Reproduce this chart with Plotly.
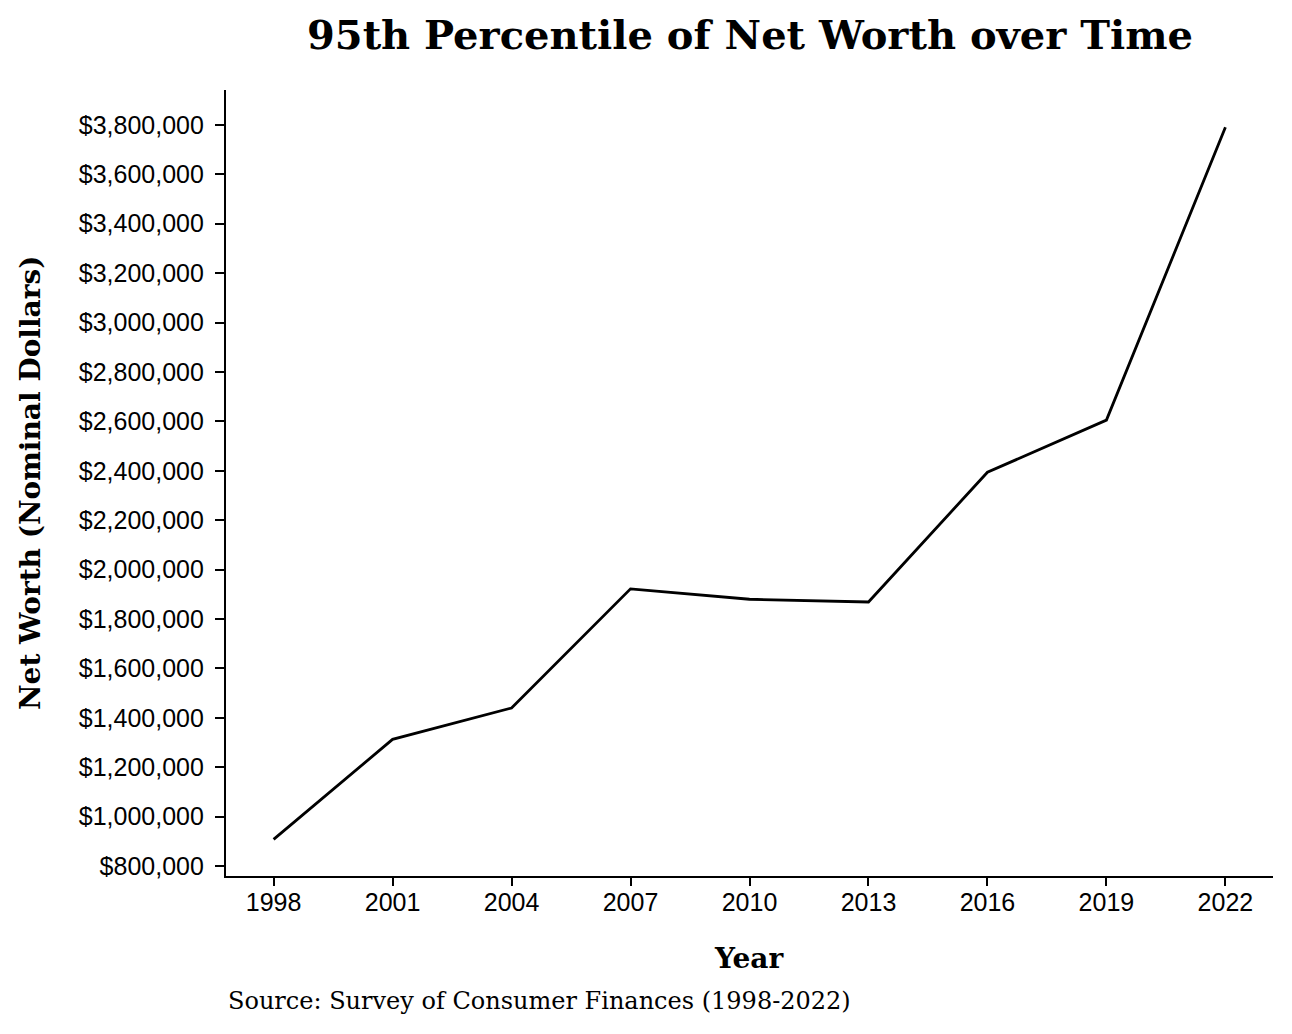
import plotly.graph_objects as go

years = [1998, 2001, 2004, 2007, 2010, 2013, 2016, 2019, 2022]
net_worth = [908000, 1313000, 1440000, 1922000, 1880000, 1869000, 2394000, 2605000, 3790000]
y_ticks = [800000 + 200000 * i for i in range(16)]

title_text = "95th Percentile of Net Worth over Time"
x_title = "Year"
y_title = "Net Worth (Nominal Dollars)"
source_text = "Source: Survey of Consumer Finances (1998-2022)"

serif = "DejaVu Serif"
sans = "Liberation Sans, Arial, sans-serif"

fig = go.Figure()
fig.add_trace(go.Scatter(
    x=years, y=net_worth, mode="lines",
    line=dict(color="black", width=2.8),
    showlegend=False, hoverinfo="x+y",
))

# page body has an 8px margin; figure origin sits at (8, 8)
OFF = 8
W, H = 1276, 1018
L, R, T, B = 226 - OFF, OFF + W - 1273, 90 - OFF, OFF + H - 876

fig.update_layout(
    width=W, height=H,
    margin=dict(l=L, r=R, t=T, b=B),
    paper_bgcolor="white", plot_bgcolor="white",
    title=dict(text="<b>" + title_text + "</b>", x=(750 - OFF) / W, xanchor="center",
               y=1 - (35 - OFF) / H, yanchor="middle", yref="container",
               font=dict(family=serif, size=40, color="black")),
    xaxis=dict(
        range=[1996.8, 2023.2], tickvals=years, ticktext=[str(y) for y in years],
        showgrid=False, zeroline=False, showline=True, linecolor="black", linewidth=2.2,
        ticks="outside", ticklen=8, tickwidth=2, tickcolor="black", ticklabelstandoff=-5,
        tickfont=dict(family=sans, size=25, color="black"),
    ),
    yaxis=dict(
        range=[760000, 3941000], tickvals=y_ticks, tickformat="$,.0f",
        showgrid=False, zeroline=False, showline=True, linecolor="black", linewidth=2.2,
        ticks="outside", ticklen=9, tickwidth=2, tickcolor="black", ticklabelstandoff=6,
        tickfont=dict(family=sans, size=25, color="black"),
    ),
    annotations=[
        dict(text="<b>" + y_title + "</b>", xref="paper", yref="paper", x=0, y=0.5,
             xshift=-(226 - 30), textangle=-90, showarrow=False, xanchor="center", yanchor="middle",
             font=dict(family=serif, size=28, color="black")),
        dict(text="<b>" + x_title + "</b>", xref="paper", yref="paper", x=0.5, y=0,
             yshift=-(958 - 876), showarrow=False, xanchor="center", yanchor="middle",
             font=dict(family=serif, size=28, color="black")),
        dict(text=source_text, xref="paper", yref="paper", x=0, y=0,
             yshift=-(1001 - 876), showarrow=False, xanchor="left", yanchor="middle",
             font=dict(family=serif, size=24, color="black")),
    ],
)

fig.write_html("out.html")
